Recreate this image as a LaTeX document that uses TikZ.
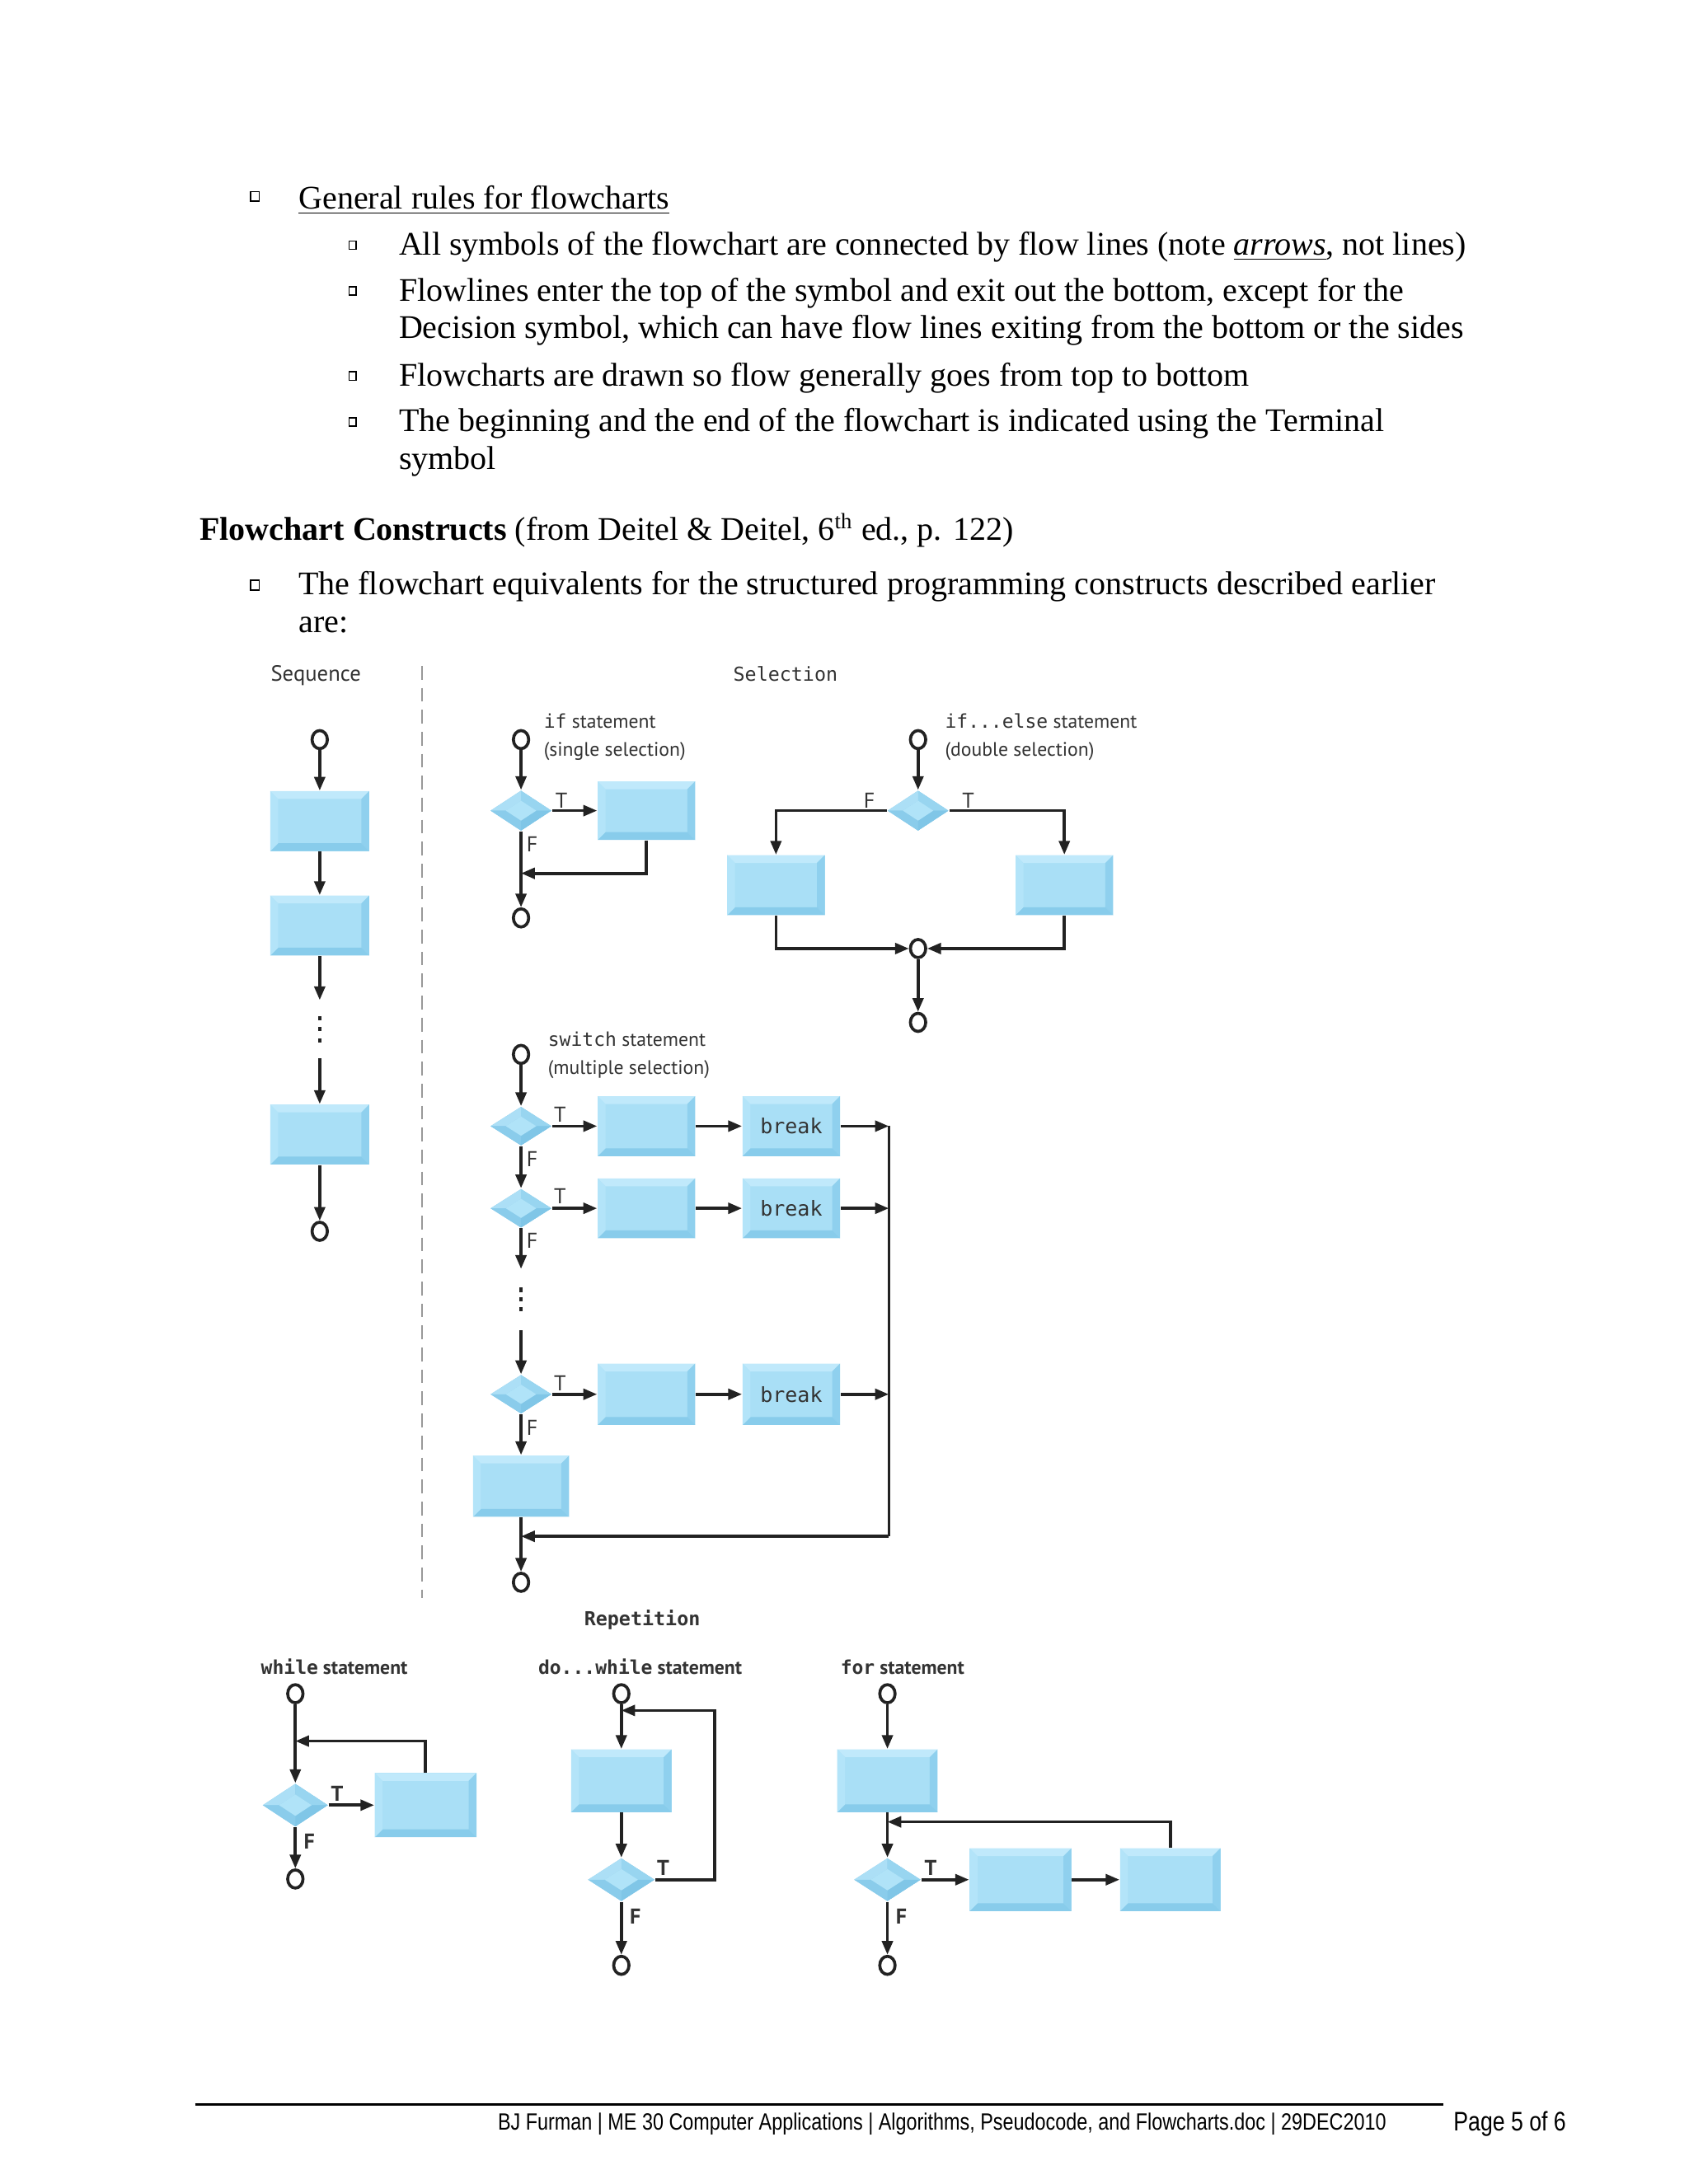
\documentclass[tikz,border=0pt]{standalone}
\usepackage{fontspec}
\setmainfont{Liberation Serif}
\newfontfamily\dsans{PT Sans}
\newfontfamily\dmono{DejaVu Sans Mono}
\newfontfamily\fnarrow[FakeStretch=0.82]{Liberation Sans}
\usetikzlibrary{arrows.meta,shapes.geometric,calc}

\definecolor{bmid}{HTML}{A9DFF6}
\definecolor{btop}{HTML}{C0E9FB}
\definecolor{bleft}{HTML}{B3E4F9}
\definecolor{bright}{HTML}{8FD0EE}
\definecolor{bbot}{HTML}{88CCEB}
\definecolor{dtl}{HTML}{ACDFF6}
\definecolor{dtr}{HTML}{98D5F0}
\definecolor{dbl}{HTML}{8ACCEB}
\definecolor{dbr}{HTML}{80C6E7}
\definecolor{dmid}{HTML}{B0E3F8}
\definecolor{ln}{HTML}{222222}
\definecolor{txt}{HTML}{333333}

\def\U{0.017813cm}

\tikzset{
  fl/.style={line width=1.1pt, draw=ln, -{Triangle[length=5pt,width=3.9pt]}},
  pl/.style={line width=0.8pt, draw=ln},
  bx/.style 2 args={rectangle, inner sep=0pt, minimum width=#1*\U, minimum height=#2*\U,
    fill=bmid, font=\dmono\fontsize{7.5}{9}\selectfont, text=txt,
    path picture={
      \path (path picture bounding box.north west) coordinate (q1)
            (path picture bounding box.north east) coordinate (q2)
            (path picture bounding box.south east) coordinate (q3)
            (path picture bounding box.south west) coordinate (q4);
      \fill[btop] (q1) -- (q2) -- ($(q2)+(-0.1cm,-0.1cm)$) -- ($(q1)+(0.1cm,-0.1cm)$) -- cycle;
      \fill[bright] (q2) -- (q3) -- ($(q3)+(-0.1cm,0.1cm)$) -- ($(q2)+(-0.1cm,-0.1cm)$) -- cycle;
      \fill[bbot] (q3) -- (q4) -- ($(q4)+(0.1cm,0.1cm)$) -- ($(q3)+(-0.1cm,0.1cm)$) -- cycle;
      \fill[bleft] (q4) -- (q1) -- ($(q1)+(0.1cm,-0.1cm)$) -- ($(q4)+(0.1cm,0.1cm)$) -- cycle;
    }},
  dm/.style 2 args={diamond, inner sep=0pt, minimum width=#1*\U, minimum height=#2*\U,
    fill=dbl,
    path picture={
      \path (path picture bounding box.north) coordinate (dN)
            (path picture bounding box.east) coordinate (dE)
            (path picture bounding box.south) coordinate (dS)
            (path picture bounding box.west) coordinate (dW)
            (path picture bounding box.center) coordinate (dC);
      \path ($(dC)!0.5!(dN)$) coordinate (iN) ($(dC)!0.5!(dE)$) coordinate (iE)
            ($(dC)!0.5!(dS)$) coordinate (iS) ($(dC)!0.5!(dW)$) coordinate (iW);
      \fill[dtl] (dN) -- (dW) -- (iW) -- (iN) -- cycle;
      \fill[dtr] (dN) -- (dE) -- (iE) -- (iN) -- cycle;
      \fill[dbl] (dS) -- (dW) -- (iW) -- (iS) -- cycle;
      \fill[dbr] (dS) -- (dE) -- (iE) -- (iS) -- cycle;
      \fill[dmid] (iN) -- (iE) -- (iS) -- (iW) -- cycle;
    }},
  tm/.style={ellipse, draw=ln, line width=1.1pt, inner sep=0pt, minimum width=11*\U, minimum height=13*\U, fill=white},
  body/.style={font=\fontsize{12}{14}\selectfont, anchor=base west, inner sep=0pt},
  bul/.style={rectangle, draw=black, line width=0.5pt, inner sep=0pt, minimum width=6*\U, minimum height=7*\U},
  sbul/.style={rectangle, draw=black, line width=0.5pt, inner sep=0pt, minimum width=5*\U, minimum height=6*\U},
  lbl/.style={font=\dsans\fontsize{7.1}{9}\selectfont, text=txt, anchor=base west, inner sep=0pt},
  hd/.style={font=\dsans\fontsize{8}{9}\selectfont, text=txt, anchor=base west, inner sep=0pt},
  mhd/.style={font=\dmono\fontsize{7}{9}\selectfont, text=txt, anchor=base west, inner sep=0pt},
  bhd/.style={font=\dsans\bfseries\fontsize{7.1}{9}\selectfont, text=txt, anchor=base west, inner sep=0pt},
  tf/.style={font=\dsans\fontsize{7.8}{9}\selectfont, text=txt, inner sep=0pt},
  btf/.style={font=\dsans\bfseries\fontsize{7.8}{9}\selectfont, text=txt, inner sep=0pt},
  foot/.style={font=\fnarrow\fontsize{8.55}{10}\selectfont, anchor=base west, inner sep=0pt},
  foottwo/.style={font=\fnarrow\fontsize{9.75}{11}\selectfont, anchor=base west, inner sep=0pt},
  divider/.style={draw=gray!80, line width=0.6pt, dash pattern=on 5pt off 3pt},
}

\begin{document}
\begin{tikzpicture}[x=0.017813cm, y=-0.017813cm]
\fill[white] (0,0) rectangle (1212,1568);
\useasboundingbox (0,0) rectangle (1212,1568);

% ---------------- body text ----------------
\node[bul] (b1) at (183,141) {};
\node[body] (t1) at (214,150) {\underline{General rules for flowcharts}};
\node[sbul] (b2) at (253,176) {};
\node[body] (t2) at (286,183) {All symbols of the flowchart are connected by flow lines (note \underline{\textit{arrows}}, not lines)};
\node[sbul] (b3) at (253,209) {};
\node[body] (t3) at (286,216) {Flowlines enter the top of the symbol and exit out the bottom, except for the};
\node[body] (t4) at (286,243) {Decision symbol, which can have flow lines exiting from the bottom or the sides};
\node[sbul] (b4) at (253,270) {};
\node[body] (t5) at (286,277) {Flowcharts are drawn so flow generally goes from top to bottom};
\node[sbul] (b5) at (253,303) {};
\node[body] (t6) at (286,310) {The beginning and the end of the flowchart is indicated using the Terminal};
\node[body] (t7) at (286,337) {symbol};
\node[body] (t8) at (143,388) {\textbf{Flowchart Constructs} (from Deitel \& Deitel, 6\textsuperscript{th} ed., p. 122)};
\node[bul] (b6) at (183,420) {};
\node[body] (t9) at (214,427) {The flowchart equivalents for the structured programming constructs described earlier};
\node[body] (t10) at (214,454) {are:};

% ---------------- headings ----------------
\node[hd] (tseq) at (194,489) {Sequence};
\node[mhd] (tsel) at (526,489) {Selection};
\draw[divider] (303,478) -- (303,1147);

% ---------------- sequence ----------------
\node[tm] (sq0) at (229.5,531) {};
\node[bx={71}{43}] (sq1) at (229.5,589.5) {};
\node[bx={71}{43}] (sq2) at (229.5,664.5) {};
\coordinate (sqa) at (229.5,718);
\coordinate (sqb) at (229.5,760);
\node[bx={71}{43}] (sq3) at (229.5,814.5) {};
\node[tm] (sq4) at (229.5,884) {};
\draw[fl] (sq0) -- (sq1);
\draw[fl] (sq1) -- (sq2);
\draw[fl] (sq2) -- (sqa);
\foreach \yy in {731,739,747} \fill[ln] (228.3,\yy-1.5) rectangle (230.7,\yy+1.5);
\draw[fl] (sqb) -- (sq3);
\draw[fl] (sq3) -- (sq4);

% ---------------- if ----------------
\node[lbl] (tif1) at (390,523) {{\dmono\fontsize{6.9}{9}\selectfont if} statement};
\node[lbl] (tif2) at (390,543) {(single selection)};
\node[tm] (if0) at (374,531) {};
\node[dm={44}{29}] (ifd) at (374,582) {};
\node[bx={70}{42}] (ifb) at (464,582) {};
\coordinate (ifm) at (374,627);
\node[tm] (if9) at (374,659) {};
\draw[fl] (if0) -- (ifd);
\draw[fl] (ifd) -- (ifb);
\draw[fl] (ifb.south) |- (ifm);
\draw[fl] (ifd) -- (if9);
\node[tf] (ift) at (403,575) {T};
\node[tf] (iff) at (382,606) {F};

% ---------------- if...else ----------------
\node[lbl] (tie1) at (678,523) {{\dmono\fontsize{6.9}{9}\selectfont if...else} statement};
\node[lbl] (tie2) at (678,543) {(double selection)};
\node[tm] (ie0) at (659,531) {};
\node[dm={44}{29}] (ied) at (659,582) {};
\node[bx={70}{43}] (iel) at (557,635.5) {};
\node[bx={70}{43}] (ier) at (764,635.5) {};
\node[tm] (iej) at (659,681) {};
\node[tm] (ie9) at (659,734) {};
\draw[fl] (ie0) -- (ied);
\draw[fl] (ied.west) -| (iel.north);
\draw[fl] (ied.east) -| (ier.north);
\draw[fl] (iel.south) |- (iej);
\draw[fl] (ier.south) |- (iej);
\draw[fl] (iej) -- (ie9);
\node[tf] (ief) at (624,575) {F};
\node[tf] (iet) at (695,575) {T};

% ---------------- switch ----------------
\node[lbl] (tsw1) at (393,751) {{\dmono\fontsize{6.9}{9}\selectfont switch} statement};
\node[lbl] (tsw2) at (393,771) {(multiple selection)};
\node[tm] (sw0) at (374,757) {};
\node[dm={44}{28}] (swd1) at (374,808.5) {};
\node[bx={70}{43}] (swa1) at (464,808.5) {};
\node[bx={70}{43}] (swk1) at (568,808.5) {break};
\coordinate (swr1) at (638,808.5);
\node[dm={44}{28}] (swd2) at (374,867.5) {};
\node[bx={70}{43}] (swa2) at (464,867.5) {};
\node[bx={70}{43}] (swk2) at (568,867.5) {break};
\coordinate (swr2) at (638,867.5);
\coordinate (swq) at (374,911);
\coordinate (swp) at (374,955);
\node[dm={44}{28}] (swd3) at (374,1001) {};
\node[bx={70}{44}] (swa3) at (464,1001) {};
\node[bx={70}{44}] (swk3) at (568,1001) {break};
\coordinate (swr3) at (638,1001);
\node[bx={69}{44}] (swb) at (374,1067) {};
\coordinate (swr4) at (638,1103);
\coordinate (swm) at (374,1103);
\node[tm] (sw9) at (374,1136) {};
\draw[fl] (sw0) -- (swd1);
\draw[fl] (swd1) -- (swa1);
\draw[fl] (swa1) -- (swk1);
\draw[fl] (swk1) -- (swr1);
\draw[fl] (swd1) -- (swd2);
\draw[fl] (swd2) -- (swa2);
\draw[fl] (swa2) -- (swk2);
\draw[fl] (swk2) -- (swr2);
\draw[fl] (swd2) -- (swq);
\foreach \yy in {926,933,940} \fill[ln] (372.8,\yy-1.5) rectangle (375.2,\yy+1.5);
\draw[fl] (swp) -- (swd3);
\draw[fl] (swd3) -- (swa3);
\draw[fl] (swa3) -- (swk3);
\draw[fl] (swk3) -- (swr3);
\draw[fl] (swd3) -- (swb);
\draw[pl] (swr1) -- (swr4);
\draw[fl] (swr4) -- (swm);
\draw[fl] (swb) -- (sw9);
\node[tf] (swt1) at (402,800) {T};
\node[tf] (swf1) at (382,832) {F};
\node[tf] (swt2) at (402,859) {T};
\node[tf] (swf2) at (382,891) {F};
\node[tf] (swt3) at (402,993) {T};
\node[tf] (swf3) at (382,1025) {F};

% ---------------- repetition ----------------
\node[mhd, font=\dmono\bfseries\fontsize{7}{9}\selectfont] (trep) at (419,1167) {Repetition};
\node[bhd] (twh) at (187,1202) {{\dmono\bfseries\fontsize{6.9}{9}\selectfont while} statement};
\node[bhd] (tdo) at (386,1202) {{\dmono\bfseries\fontsize{6.9}{9}\selectfont do...while} statement};
\node[bhd] (tfor) at (603,1202) {{\dmono\bfseries\fontsize{6.9}{9}\selectfont for} statement};

% while
\node[tm] (wh0) at (212,1216) {};
\node[dm={47}{31}] (whd) at (212,1296) {};
\node[bx={73}{46}] (whb) at (305.5,1296) {};
\coordinate (whm) at (212,1250);
\node[tm] (wh9) at (212,1349) {};
\draw[fl] (wh0) -- (whd);
\draw[fl] (whb.north) |- (whm);
\draw[fl] (whd) -- (whb);
\draw[fl] (whd) -- (wh9);
\node[btf] (wht) at (242,1288) {T};
\node[btf] (whf) at (222,1322) {F};

% do...while
\node[tm] (do0) at (446,1216) {};
\node[bx={72}{45}] (dob) at (446,1278.5) {};
\node[dm={48}{31}] (dod) at (446,1349.5) {};
\coordinate (doc1) at (513,1349.5);
\coordinate (doc2) at (513,1228);
\coordinate (dom) at (446,1228);
\node[tm] (do9) at (446,1411) {};
\draw[fl] (do0) -- (dob);
\draw[fl] (dob) -- (dod);
\draw[fl] (dod.east) -- (doc1) -- (doc2) -- (dom);
\draw[fl] (dod) -- (do9);
\node[btf] (dot) at (476,1341) {T};
\node[btf] (dof) at (456,1376) {F};

% for
\node[tm] (fo0) at (637,1216) {};
\node[bx={72}{45}] (fob) at (637,1278.5) {};
\node[dm={48}{31}] (fod) at (637,1349.5) {};
\node[bx={73}{45}] (fo1) at (732.5,1349.5) {};
\node[bx={72}{45}] (fo2) at (840,1349.5) {};
\coordinate (fom) at (637,1308);
\node[tm] (fo9) at (637,1411) {};
\draw[fl] (fo0) -- (fob);
\draw[fl] (fob) -- (fod);
\draw[fl] (fo2.north) |- (fom);
\draw[fl] (fod) -- (fo1);
\draw[fl] (fo1) -- (fo2);
\draw[fl] (fod) -- (fo9);
\node[btf] (fot) at (668,1341) {T};
\node[btf] (fof) at (647,1376) {F};

% ---------------- footer ----------------
\draw[line width=0.8pt] (140,1511) -- (1036,1511);
\node[foot] (ft1) at (357,1529) {BJ Furman | ME 30 Computer Applications | Algorithms, Pseudocode, and Flowcharts.doc | 29DEC2010};
\node[foottwo] (ft2) at (1043,1530) {Page 5 of 6};
\end{tikzpicture}
\end{document}
